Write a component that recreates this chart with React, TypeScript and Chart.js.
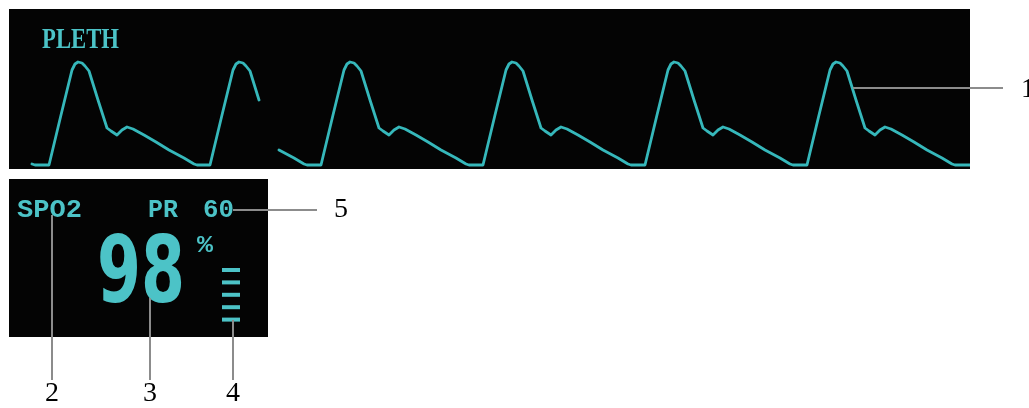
import React, { useEffect, useRef } from "react";
import { Chart, registerables } from "chart.js";

Chart.register(...registerables);

// One pleth pulse: offset from the start of the upstroke, amplitude above baseline
const pulseT = [0, 12, 23, 26, 29, 33, 36, 40, 49, 58, 62, 68, 73, 78, 84, 95, 107, 120, 135, 145, 148];
const pulseV = [0, 50, 95, 101, 103, 102, 99, 94, 65, 37, 34, 30, 35, 38, 36, 30, 23, 15, 7, 1, 0];

// Sweep display: new trace (left of the erase gap) and old trace (right of it)
const newBeats = [-122, 40, 201];
const newRange = [21, 250];
const oldBeats = [150, 312, 474, 636, 798];
const oldRange = [266, 961];

// Numeric panel
const panelLabels = ["SPO2", "PR", "60"];
const spo2Value = "98";
const spo2Unit = "%";
const signalBars = 5;
const calloutNumbers = ["1", "2", "3", "4", "5"];

const CYAN = "#4cc3c7";
const TRACE = "#36b8bb";
const GRAY = "#8c8c8c";

function buildTrace(beats: number[], range: number[]) {
  const pts: { x: number; y: number }[] = [];
  beats.forEach((s) => {
    pulseT.forEach((t, i) => {
      const x = s + t;
      if (x >= range[0] && x <= range[1]) pts.push({ x, y: pulseV[i] });
    });
  });
  return pts;
}

function drawFit(
  ctx: CanvasRenderingContext2D,
  text: string,
  font: string,
  x: number,
  baseline: number,
  width: number,
  color: string
) {
  ctx.save();
  ctx.font = font;
  ctx.textAlign = "left";
  ctx.textBaseline = "alphabetic";
  const w = ctx.measureText(text).width;
  ctx.translate(x, baseline);
  ctx.scale(width / w, 1);
  ctx.fillStyle = color;
  ctx.fillText(text, 0, 0);
  ctx.restore();
}

const panelPlugin = {
  id: "monitorPanels",
  beforeDraw(chart: any) {
    const ctx: CanvasRenderingContext2D = chart.ctx;
    ctx.save();
    ctx.fillStyle = "#ffffff";
    ctx.fillRect(0, 0, chart.width, chart.height);
    ctx.fillStyle = "#040404";
    const a = chart.chartArea;
    ctx.fillRect(a.left, a.top, a.right - a.left, a.bottom - a.top);
    ctx.fillRect(9, 179, 259, 158);
    ctx.restore();
  },
  afterDraw(chart: any) {
    const ctx: CanvasRenderingContext2D = chart.ctx;
    // Labels
    drawFit(ctx, "PLETH", "bold 29px 'Liberation Serif'", 42, 48, 77, CYAN);
    drawFit(ctx, panelLabels[0], "bold 26px 'Liberation Mono'", 17, 217, 65, CYAN);
    drawFit(ctx, panelLabels[1], "bold 26px 'Liberation Mono'", 148, 217, 30, CYAN);
    drawFit(ctx, panelLabels[2], "bold 26px 'Liberation Mono'", 203, 217, 31, CYAN);
    drawFit(ctx, spo2Value, "bold 92px 'DejaVu Sans'", 97, 302, 88, CYAN);
    drawFit(ctx, spo2Unit, "bold 23px 'Liberation Mono'", 197, 252, 16, CYAN);

    // Signal strength bars
    ctx.save();
    ctx.fillStyle = CYAN;
    for (let i = 0; i < signalBars; i++) {
      const cy = 270 + i * 12.4;
      ctx.fillRect(222, cy - 2, 18, 4);
    }
    ctx.restore();

    // Callout lines
    ctx.save();
    ctx.strokeStyle = GRAY;
    ctx.lineWidth = 2;
    ctx.beginPath();
    ctx.moveTo(853, 88);
    ctx.lineTo(1003, 88);
    ctx.moveTo(233, 210);
    ctx.lineTo(317, 210);
    ctx.moveTo(52, 215);
    ctx.lineTo(52, 380);
    ctx.moveTo(150, 298);
    ctx.lineTo(150, 380);
    ctx.moveTo(233, 320);
    ctx.lineTo(233, 380);
    ctx.stroke();

    ctx.fillStyle = "#000000";
    ctx.font = "28px 'Liberation Serif'";
    ctx.textAlign = "center";
    ctx.textBaseline = "alphabetic";
    ctx.fillText(calloutNumbers[0], 1028, 97);
    ctx.fillText(calloutNumbers[1], 52, 401);
    ctx.fillText(calloutNumbers[2], 150, 401);
    ctx.fillText(calloutNumbers[3], 233, 401);
    ctx.fillText(calloutNumbers[4], 341, 217);
    ctx.restore();
  },
};

export default function App() {
  const ref = useRef<HTMLCanvasElement | null>(null);
  useEffect(() => {
    if (!ref.current) return;
    const data = [
      ...buildTrace(newBeats, newRange),
      { x: (newRange[1] + oldRange[0]) / 2, y: null as any },
      ...buildTrace(oldBeats, oldRange),
      { x: oldRange[1], y: 0 },
    ];
    const chart = new Chart(ref.current, {
      type: "line",
      data: {
        datasets: [
          {
            label: "PLETH",
            data,
            borderColor: TRACE,
            borderWidth: 2.8,
            pointRadius: 0,
            tension: 0,
            spanGaps: false,
            borderJoinStyle: "round",
            borderCapStyle: "round",
          },
        ],
      },
      options: {
        responsive: false,
        animation: false,
        devicePixelRatio: 1,
        layout: { padding: { left: 9, top: 9, right: 59, bottom: 239 } },
        plugins: { legend: { display: false }, tooltip: { enabled: false } },
        scales: {
          x: { type: "linear", min: 0, max: 961, display: false },
          y: { type: "linear", min: -4, max: 156, display: false },
        },
      },
      plugins: [panelPlugin],
    });
    return () => chart.destroy();
  }, []);
  return (
    <div style={{ position: "fixed", left: 0, top: 0, width: 1029, height: 408 }}>
      <canvas ref={ref} width={1029} height={408} style={{ width: 1029, height: 408, display: "block" }} />
    </div>
  );
}
